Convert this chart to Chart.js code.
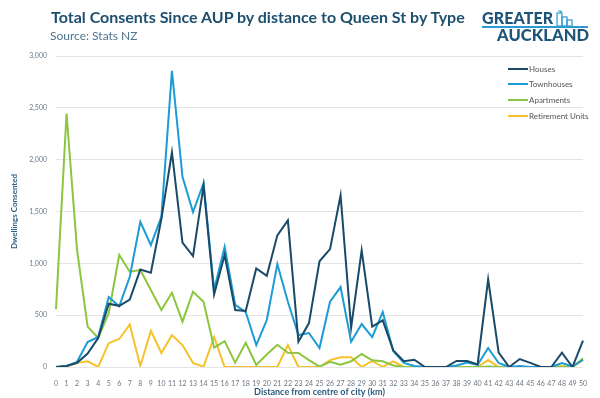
<!DOCTYPE html>
<html lang="en">
<head>
<meta charset="UTF-8" />
<title>Total Consents Since AUP</title>
<script src="https://cdn.jsdelivr.net/npm/chart.js"></script>
<style>
  html, body { margin: 0; padding: 0; background: #fff; }
  .wrap { position: relative; width: 600px; height: 398px; font-family: Lato, "Open Sans", sans-serif; overflow: hidden; }
  #grafico { position: absolute; left: 0; top: 0; }
  .titulo { position: absolute; left: 51px; top: 7px; font-size: 16px; font-weight: 700; color: #1d4f6e; white-space: nowrap; }
  .fonte { position: absolute; left: 50px; top: 28px; font-size: 12px; color: #4f7590; white-space: nowrap; }
  .logo1 { position: absolute; left: 482px; top: 8px; font-size: 16px; font-weight: 900; color: #1e5478; letter-spacing: 0.1px; }
  .logo-linha { position: absolute; left: 482px; top: 26px; width: 106px; height: 2px; background: #2b9ad3; }
  .logo2 { position: absolute; left: 497px; top: 25px; font-size: 16.5px; font-weight: 900; color: #1e5478; letter-spacing: 0.1px; }
  .logo-icone { position: absolute; left: 555px; top: 10px; }
  #legenda { position: absolute; left: 508px; top: 61px; font-size: 8px; color: #555; }
  #legenda div { height: 15.6px; display: flex; align-items: center; }
  #legenda span.linha { display: inline-block; width: 20px; height: 2px; margin-right: 1px; }
</style>
</head>
<body>
<div class="wrap">
  <canvas id="grafico" width="600" height="398"></canvas>
  <div class="titulo">Total Consents Since AUP by distance to Queen St by Type</div>
  <div class="fonte">Source: Stats NZ</div>
  <div class="logo1">GREATER</div>
  <svg class="logo-icone" width="32" height="17" viewBox="0 0 32 17">
    <g fill="none" stroke="#2b9ad3" stroke-width="1.2">
      <rect x="2" y="3" width="5" height="13" />
      <rect x="7" y="7" width="5" height="9" />
      <rect x="12" y="10" width="5" height="6" />
      <path d="M3 1 L6 1 L6 3" />
    </g>
  </svg>
  <div class="logo-linha"></div>
  <div class="logo2">AUCKLAND</div>
  <div id="legenda"></div>
</div>
<script>
  // distancia do centro (km)
  const distancias = ["0","1","2","3","4","5","6","7","8","9","10","11","12","13","14","15","16","17","18","19","20",
    "21","22","23","24","25","26","27","28","29","30","31","32","33","34","35","36","37","38","39","40",
    "41","42","43","44","45","46","47","48","49","50"];

  const houses = [0, 10, 40, 130, 280, 610, 590, 650, 940, 910, 1430, 2070, 1200, 1070, 1750, 700, 1080, 550, 540, 950, 880,
    1270, 1415, 244, 424, 1020, 1137, 1655, 380, 1125, 390, 450, 160, 55, 70, 0, 0, 0, 58, 58, 25,
    845, 138, 0, 77, 40, 0, 0, 138, 0, 254];

  const townhouses = [0, 10, 50, 240, 290, 675, 585, 870, 1400, 1176, 1450, 2857, 1835, 1494, 1773, 745, 1160, 600, 530, 212, 453,
    993, 630, 308, 328, 183, 630, 771, 244, 414, 289, 530, 155, 40, 10, 0, 0, 0, 15, 42, 20,
    183, 39, 0, 10, 0, 0, 0, 39, 5, 70];

  const apartments = [560, 2445, 1128, 389, 280, 520, 1080, 919, 935, 742, 549, 716, 437, 726, 630, 186, 250, 42, 234, 19, 120,
    215, 138, 135, 67, 3, 50, 22, 55, 125, 65, 55, 15, 0, 0, 0, 0, 0, 0, 0, 0,
    5, 0, 0, 0, 0, 0, 0, 0, 0, 85];

  const retirement = [0, 5, 40, 55, 0, 230, 270, 410, 10, 350, 135, 308, 212, 39, 3, 290, 0, 0, 0, 0, 0,
    0, 212, 0, 0, 0, 67, 94, 94, 0, 58, 0, 55, 0, 0, 0, 0, 0, 0, 0, 0,
    67, 0, 0, 0, 0, 0, 0, 10, 0, 67];

  const yTicks = [0, 500, 1000, 1500, 2000, 2500, 3000];

  const series = [
    { label: "Houses", data: houses, cor: "#1a4a68" },
    { label: "Townhouses", data: townhouses, cor: "#1c9bd4" },
    { label: "Apartments", data: apartments, cor: "#8cc540" },
    { label: "Retirement Units", data: retirement, cor: "#f6c22a" }
  ];

  const grafico = new Chart(document.getElementById("grafico"), {
    type: "line",
    data: {
      labels: distancias,
      datasets: series.map(s => ({
        label: s.label,
        data: s.data,
        borderColor: s.cor,
        backgroundColor: s.cor,
        borderWidth: 2,
        pointRadius: 0,
        tension: 0,
        fill: false
      }))
    },
    options: {
      responsive: false,
      devicePixelRatio: 1,
      animation: false,
      layout: { padding: { top: 56, right: 17, left: 0, bottom: 0 } },
      plugins: {
        legend: { display: false },
        tooltip: { enabled: false }
      },
      scales: {
        x: {
          offset: false,
          grid: { display: false },
          border: { display: false },
          ticks: { autoSkip: false, maxRotation: 0, color: "#6b7680", font: { family: "Lato", size: 7 }, padding: 5 },
          title: { display: true, text: "Distance from centre of city (km)", color: "#2b5b7e",
            font: { family: "Lato", size: 9, weight: "bold" }, padding: { top: 0, bottom: 1 } },
          afterFit: scale => { scale.height = 31; }
        },
        y: {
          min: 0,
          max: 3000,
          afterBuildTicks: scale => { scale.ticks = yTicks.map(v => ({ value: v })); },
          grid: { color: "#e4e4e4", drawTicks: false },
          border: { display: false },
          ticks: { color: "#6b7a88", font: { family: "Lato", size: 7 }, padding: 9,
            callback: v => v.toLocaleString("en-US") },
          title: { display: true, text: "Dwellings Consented", color: "#2b5f86",
            font: { family: "Lato", size: 8, weight: "bold" }, padding: { top: 10, bottom: 0 } },
          afterFit: scale => { scale.width = 56; }
        }
      }
    }
  });

  // legenda em html dentro da area do grafico
  const legenda = document.getElementById("legenda");
  grafico.data.datasets.forEach(ds => {
    const linha = document.createElement("div");
    linha.innerHTML = '<span class="linha" style="background:' + ds.borderColor + '"></span>' + ds.label;
    legenda.appendChild(linha);
  });
</script>
</body>
</html>
